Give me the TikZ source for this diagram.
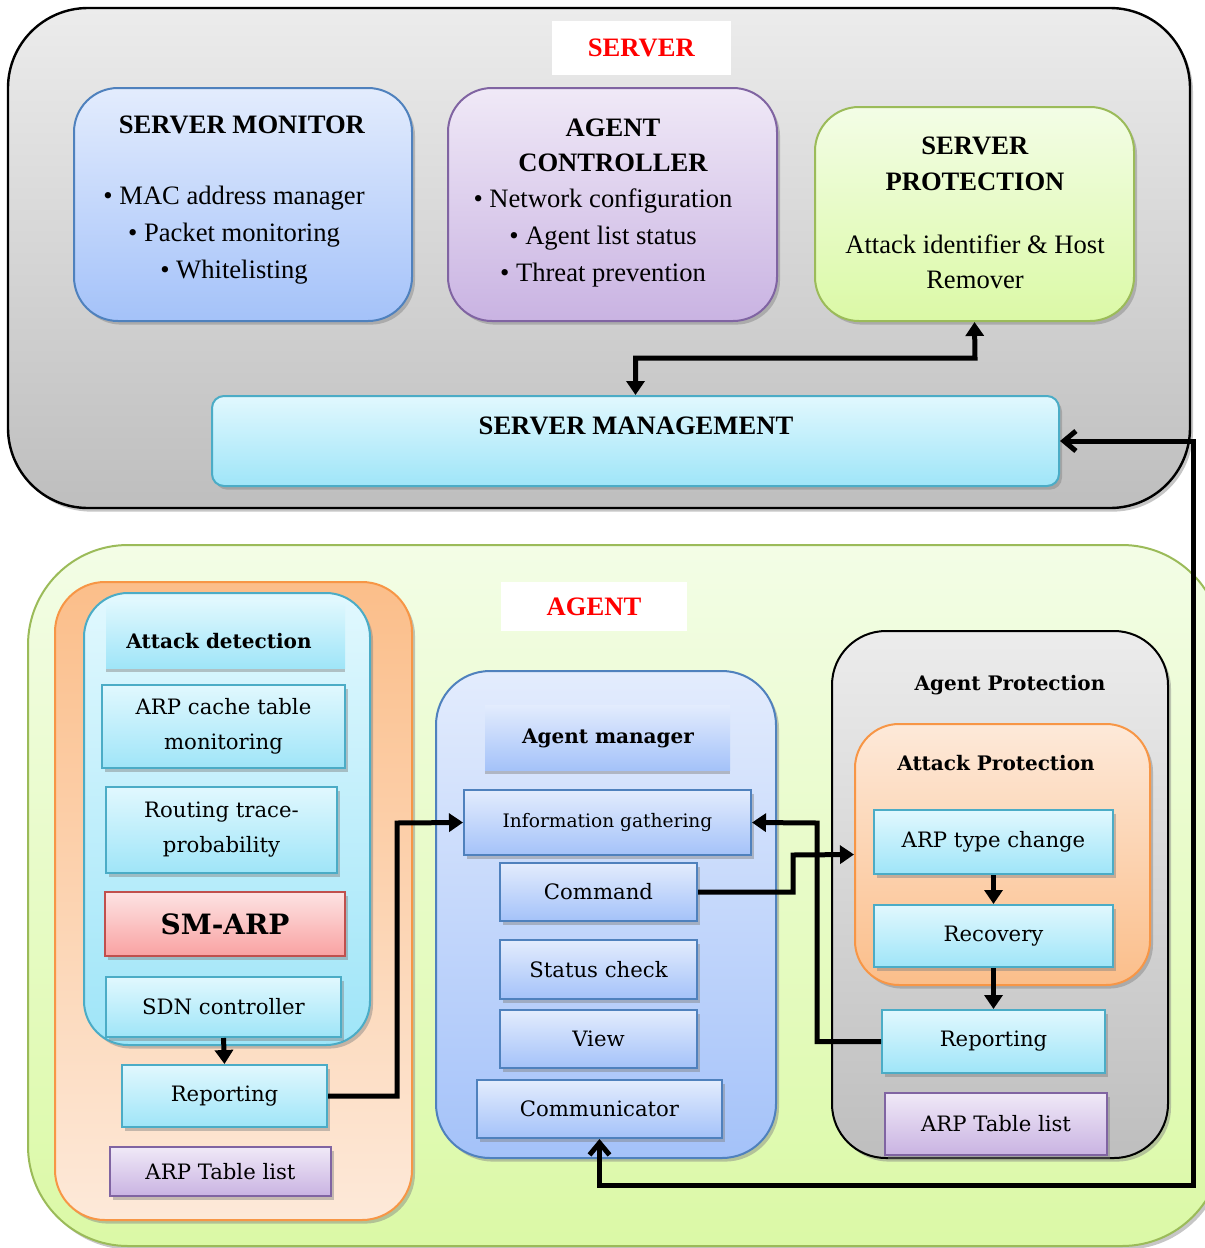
\documentclass[tikz,border=0pt]{standalone}
\usepackage{fontspec}
\setmainfont{Liberation Serif}
\newfontfamily\agentfont{DejaVu Serif}
\usepackage{tikz}
\usetikzlibrary{shadows,calc,positioning}
\usetikzlibrary{arrows.meta}
\tikzset{>={Triangle[width=9pt,length=7pt]}}
\definecolor{gray_top}{HTML}{ECECEC}
\definecolor{gray_bot}{HTML}{BEBEBE}
\definecolor{blue_top}{HTML}{E3ECFD}
\definecolor{blue_bot}{HTML}{A4C2F9}
\definecolor{blue_edge}{HTML}{4F81BD}
\definecolor{purple_top}{HTML}{F0E9F7}
\definecolor{purple_bot}{HTML}{C9B3E2}
\definecolor{purple_edge}{HTML}{8064A2}
\definecolor{green_top}{HTML}{F3FDE6}
\definecolor{green_bot}{HTML}{DBF9A6}
\definecolor{green_edge}{HTML}{9BBB59}
\definecolor{cyan_top}{HTML}{E1F8FE}
\definecolor{cyan_bot}{HTML}{9FE5F8}
\definecolor{cyan_edge}{HTML}{4BACC6}
\definecolor{orange_dark}{HTML}{FBBE8A}
\definecolor{orange_light}{HTML}{FDE9D9}
\definecolor{orange_edge}{HTML}{F79646}
\definecolor{red_top}{HTML}{FDE3E3}
\definecolor{red_bot}{HTML}{F9A2A2}
\definecolor{red_edge}{HTML}{C0504D}

\begin{document}
\begin{tikzpicture}[
		x=0.5pt,y=-0.5pt,
		every node/.style={font=\fontsize{13.3}{16}\selectfont},
		shade/.style={drop shadow={shadow xshift=1.5pt,shadow yshift=-1.8pt,opacity=.45}},
		srvlist/.style={align=center,font=\fontsize{13.3}{18.6}\selectfont},
		agtext/.style={font=\agentfont\fontsize{10.6}{17.5}\selectfont,align=center},
		agbold/.style={font=\agentfont\bfseries\fontsize{10}{12}\selectfont},
		cyanbox/.style={shade,draw=cyan_edge,line width=1pt,top color=cyan_top,bottom color=cyan_bot},
		bluebox/.style={shade,draw=blue_edge,line width=1pt,top color=blue_top,bottom color=blue_bot},
		listbox/.style={shade,draw=purple_edge,line width=1pt,top color=purple_top,bottom color=purple_bot},
		link/.style={line width=2.5pt},
	]
	% box from pixel corners
	\newcommand{\pbox}[7][]{%
		\pgfmathsetmacro{\bw}{(#5-#3)*0.5}
		\pgfmathsetmacro{\bh}{(#6-#4)*0.5}
		\node[#1,minimum width=\bw pt,minimum height=\bh pt,inner sep=0pt] (#2) at ({(#3+#5)/2},{(#4+#6)/2}) {#7};
	}

	\useasboundingbox (0,0) rectangle (1205,1248);

	% server
	\pbox[shade,draw=black,line width=1.2pt,rounded corners=40pt,top color=gray_top,bottom color=gray_bot]{server}{8}{8}{1190}{508}{}
	\pbox[fill=white]{server-lbl}{552}{21}{731}{75}{\textcolor{red}{\textbf{SERVER}}}

	\pbox[shade,draw=blue_edge,line width=1pt,rounded corners=22pt,top color=blue_top,bottom color=blue_bot]{srv-monitor}{74}{88}{412}{321}{}
	\node (srv-monitor-title) at (242,125) {\textbf{SERVER MONITOR}};
	\node[srvlist] (srv-monitor-list) at (234,235) {\textbullet{} MAC address manager\\\textbullet{} Packet monitoring\\\textbullet{} Whitelisting};

	\pbox[shade,draw=purple_edge,line width=1pt,rounded corners=22pt,top color=purple_top,bottom color=purple_bot]{agent-ctrl}{448}{88}{777}{321}{}
	\node[align=center,font=\fontsize{13.3}{17.5}\selectfont] (agent-ctrl-title) at (613,145) {\textbf{AGENT}\\\textbf{CONTROLLER}};
	\node[srvlist] (agent-ctrl-list) at (603,238) {\textbullet{} Network configuration\\\textbullet{} Agent list status\\\textbullet{} Threat prevention};

	\pbox[shade,draw=green_edge,line width=1pt,rounded corners=22pt,top color=green_top,bottom color=green_bot]{srv-prot}{815}{107}{1134}{321}{}
	\node[align=center,font=\fontsize{13.3}{18}\selectfont] (srv-prot-title) at (975,164) {\textbf{SERVER}\\\textbf{PROTECTION}};
	\node[align=center,font=\fontsize{13.3}{17.5}\selectfont] (srv-prot-text) at (975,262) {Attack identifier \& Host\\Remover};

	\pbox[shade,draw=cyan_edge,line width=1pt,rounded corners=6pt,top color=cyan_top,bottom color=cyan_bot]{srv-mgmt}{212}{396}{1059}{486}{}
	\node (srv-mgmt-title) at (636,426) {\textbf{SERVER MANAGEMENT}};

	\coordinate (sp-mid) at (975,358);
	\draw[link,<->] (srv-mgmt.north) |- (sp-mid) -- (srv-prot.south);

	% agent
	\pbox[shade,draw=green_edge,line width=1pt,rounded corners=50pt,top color=green_top,bottom color=green_bot]{agent}{28}{545}{1222}{1246}{}
	\pbox[fill=white]{agent-lbl}{501}{582}{687}{631}{\textcolor{red}{\textbf{AGENT}}}

	% left column
	\pbox[shade,draw=orange_edge,line width=1pt,rounded corners=25pt,top color=orange_dark,bottom color=orange_light]{detect-frame}{55}{582}{412}{1220}{}
	\pbox[shade,draw=cyan_edge,line width=1pt,rounded corners=22pt,top color=cyan_top,bottom color=cyan_bot]{detect}{84}{593}{370}{1045}{}
	\pbox[drop shadow={shadow xshift=0pt,shadow yshift=-2pt,opacity=.45},top color=cyan_top,bottom color=cyan_bot]{detect-head}{106}{600}{345}{668}{}
	\node[agbold] (detect-title) at (219,641) {Attack detection};
	\pbox[cyanbox,agtext]{arp-cache}{102}{685}{345}{768}{ARP cache table\\monitoring}
	\pbox[cyanbox,agtext]{routing}{106}{787}{337}{873}{Routing trace-\\probability}
	\pbox[shade,draw=red_edge,line width=1pt,top color=red_top,bottom color=red_bot,font=\agentfont\bfseries\fontsize{14}{16}\selectfont]{sm-arp}{105}{892}{345}{956}{SM-ARP}
	\pbox[cyanbox,agtext]{sdn-ctrl}{106}{977}{341}{1037}{SDN controller}
	\pbox[cyanbox,agtext]{rep-left}{122}{1065}{327}{1127}{Reporting}
	\pbox[listbox,agtext]{arp-list-left}{110}{1147}{331}{1196}{ARP Table list}
	\draw[link,->] (sdn-ctrl.south) -- (rep-left.north);

	% middle column
	\pbox[shade,draw=blue_edge,line width=1pt,rounded corners=27pt,top color=blue_top,bottom color=blue_bot]{agent-mgr}{436}{671}{776}{1158}{}
	\pbox[drop shadow={shadow xshift=0pt,shadow yshift=-2pt,opacity=.45},top color=blue_top,bottom color=blue_bot]{agent-mgr-head}{485}{705}{730}{770}{}
	\node[agbold] (agent-mgr-title) at (608,738) {Agent manager};
	\pbox[bluebox,agtext,font=\agentfont\fontsize{9.3}{12}\selectfont]{info-gath}{464}{790}{751}{855}{Information gathering}
	\pbox[bluebox,agtext]{command}{500}{863}{697}{921}{Command}
	\pbox[bluebox,agtext]{status}{500}{940}{697}{999}{Status check}
	\pbox[bluebox,agtext]{view}{500}{1010}{697}{1068}{View}
	\pbox[bluebox,agtext]{communicator}{477}{1080}{722}{1138}{Communicator}

	% right column
	\pbox[shade,draw=black,line width=1pt,rounded corners=27pt,top color=gray_top,bottom color=gray_bot]{agent-prot}{832}{631}{1168}{1158}{}
	\node[agbold] (agent-prot-title) at (1010,685) {Agent Protection};
	\pbox[shade,draw=orange_edge,line width=1pt,rounded corners=22pt,top color=orange_light,bottom color=orange_dark]{att-prot}{855}{724}{1150}{985}{}
	\node[agbold] (att-prot-title) at (996,763) {Attack Protection};
	\pbox[cyanbox,agtext]{arp-type}{874}{810}{1113}{874}{ARP type change}
	\pbox[cyanbox,agtext]{recovery}{874}{905}{1113}{967}{Recovery}
	\pbox[cyanbox,agtext]{rep-right}{882}{1010}{1105}{1073}{Reporting}
	\pbox[listbox,agtext]{arp-list-right}{885}{1093}{1107}{1155}{ARP Table list}
	\draw[link,->] (arp-type.south) -- (recovery.north);
	\draw[link,->] (recovery.south) -- (rep-right.north);

	% links between columns
	\coordinate (lr-turn) at (397,823);
	\draw[link,->] (rep-left.east) -| (lr-turn) -- (info-gath.west);

	\coordinate (cmd-turn) at (793,855);
	\draw[link,->] (command.east) -| (cmd-turn) -- (att-prot.west);

	\coordinate (rr-turn) at (817,823);
	\draw[link,->] (rep-right.west) -| (rr-turn) -- (info-gath.east);

	\coordinate (loop-turn) at (1193,1185);
	\draw[link,{Straight Barb[length=6pt,width=10pt]}-{Straight Barb[length=6pt,width=10pt]}] (communicator.south) |- (loop-turn) |- (srv-mgmt.east);

\end{tikzpicture}
\end{document}
